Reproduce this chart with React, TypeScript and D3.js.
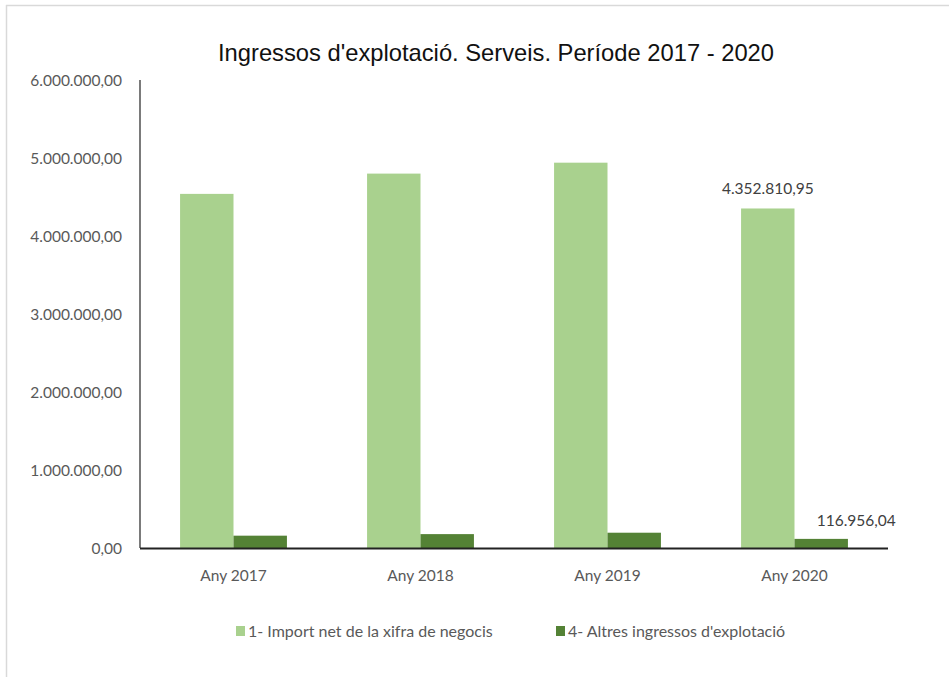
import React from "react";
import * as d3 from "d3";

const categories = ["Any 2017", "Any 2018", "Any 2019", "Any 2020"];
const seriesNames = ["1- Import net de la xifra de negocis", "4- Altres ingressos d'explotació"];
const importNet = [4540000, 4800000, 4940000, 4352810.95];
const altres = [158000, 178000, 196000, 116956.04];
const yTicks = [0, 1000000, 2000000, 3000000, 4000000, 5000000, 6000000];
const colors = ["#A9D18E", "#548235"];
const title = "Ingressos  d'explotació. Serveis. Període 2017 - 2020";

const W = 949;
const H = 677;
const M = { left: 140, right: 888, top: 80, bottom: 548 };
const FONT = "Lato, 'Noto Sans', sans-serif";

const fmt = (v: number) => {
  const s = v.toFixed(2);
  const [i, d] = s.split(".");
  return i.replace(/\B(?=(\d{3})+(?!\d))/g, ".") + "," + d;
};

export default function App() {
  const x0 = d3.scaleBand<string>().domain(categories).range([M.left, M.right]).paddingInner(0).paddingOuter(0);
  const bw = x0.bandwidth() / 3.5;
  const x1 = d3.scaleBand<number>().domain([0, 1]).range([x0.bandwidth() / 2 - bw, x0.bandwidth() / 2 + bw]);
  const y = d3.scaleLinear().domain([0, 6000000]).range([M.bottom, M.top]);
  const series = [importNet, altres];
  const last = categories.length - 1;

  return (
    <svg width={W} height={H} style={{ position: "absolute", left: 0, top: 0, background: "#fff" }}>
      <line x1={6.5} x2={6.5} y1={5} y2={H} stroke="#d9d9d9" strokeWidth={1.5} />
      <line x1={6} x2={W} y1={5.5} y2={5.5} stroke="#d9d9d9" strokeWidth={1.5} />
      <text x={496} y={61} textAnchor="middle" fontFamily="'Liberation Sans Narrow', 'Liberation Sans', Arial, sans-serif" fontSize={24} fill="#111" textLength={556} lengthAdjust="spacingAndGlyphs">{title}</text>
      {yTicks.map((t) => (
        <text key={t} x={122} y={y(t) + 6} textAnchor="end" fontFamily={FONT} fontSize={15.5} fill="#595959">{fmt(t)}</text>
      ))}
      {series.map((vals, si) =>
        vals.map((v, ci) => (
          <rect key={`${si}-${ci}`} x={(x0(categories[ci]) as number) + (x1(si) as number)} y={y(v)} width={x1.bandwidth()} height={y(0) - y(v)} fill={colors[si]} />
        ))
      )}
      <line x1={M.left} x2={M.left} y1={M.top} y2={M.bottom} stroke="#222" strokeWidth={1.2} />
      <line x1={M.left} x2={M.right} y1={M.bottom + 0.5} y2={M.bottom + 0.5} stroke="#222" strokeWidth={2} />
      {categories.map((c) => (
        <text key={c} x={(x0(c) as number) + x0.bandwidth() / 2} y={581} textAnchor="middle" fontFamily={FONT} fontSize={15.5} fill="#595959">{c}</text>
      ))}
      <text x={(x0(categories[last]) as number) + (x1(0) as number) + x1.bandwidth() / 2} y={y(importNet[last]) - 14} textAnchor="middle" fontFamily={FONT} fontSize={15.5} fill="#404040">{fmt(importNet[last])}</text>
      <text x={(x0(categories[last]) as number) + (x1(1) as number) + x1.bandwidth() / 2 + 35} y={y(altres[last]) - 13} textAnchor="middle" fontFamily={FONT} fontSize={15.5} fill="#404040">{fmt(altres[last])}</text>
      {seriesNames.map((n, i) => {
        const lx = [236, 556][i];
        return (
          <g key={n}>
            <rect x={lx} y={626} width={9} height={10} fill={colors[i]} />
            <text x={lx + 12} y={637} fontFamily={FONT} fontSize={16} fill="#595959">{n}</text>
          </g>
        );
      })}
    </svg>
  );
}
